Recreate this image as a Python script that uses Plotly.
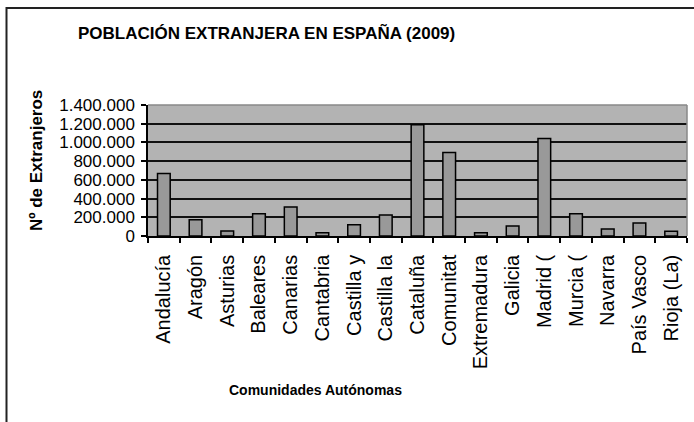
import plotly.graph_objects as go

categories = ["Andalucía", "Aragón", "Asturias", "Baleares", "Canarias", "Cantabria",
              "Castilla y", "Castilla la", "Cataluña", "Comunitat", "Extremadura",
              "Galicia", "Madrid (", "Murcia (", "Navarra", "País Vasco", "Rioja (La)"]
values = [667000, 175000, 54000, 239000, 311000, 36000, 121000, 225000, 1190000,
          893000, 36000, 107000, 1043000, 239000, 75000, 139000, 50000]
y_ticks = [0, 200000, 400000, 600000, 800000, 1000000, 1200000, 1400000]

title_text = "POBLACIÓN EXTRANJERA EN ESPAÑA (2009)"
x_title = "Comunidades Autónomas"
y_title = "Nº de Extranjeros"

W, H = 694, 422
ML, MR, MT, MB = 148, 7, 105, 186
PW = W - ML - MR
PH = H - MT - MB

def px(xp):
    return (xp - ML) / PW

def py(yp):
    return (H - MB - yp) / PH

REG = "Liberation Sans, Arial, sans-serif"

fig = go.Figure(go.Bar(
    x=categories, y=values,
    marker=dict(color="#999999", line=dict(color="#000000", width=1.5)),
))

fig.update_layout(
    width=W, height=H,
    margin=dict(l=ML, r=MR, t=MT, b=MB, autoexpand=False),
    paper_bgcolor="white", plot_bgcolor="#b3b3b3",
    bargap=0.6, showlegend=False,
    separators=",.",
    font=dict(family=REG, color="black"),
)
fig.update_xaxes(
    type="category", tickangle=-90, tickfont=dict(size=20, family=REG),
    ticks="outside", ticklen=5, tickwidth=1.5, tickcolor="black", tickson="boundaries",
    showline=True, linecolor="black", linewidth=1.5, showgrid=False,
    ticklabelstandoff=9, automargin=False,
)
fig.update_yaxes(
    range=[0, 1400000], tickvals=y_ticks, tickformat=",d",
    tickfont=dict(size=17, family=REG),
    ticks="outside", ticklen=5, tickwidth=1.5, tickcolor="black",
    showline=True, linecolor="black", linewidth=1.5,
    showgrid=True, gridcolor="#111111", gridwidth=1.5, zeroline=False,
    ticklabelstandoff=3, automargin=False,
)

frame_path = "M {:.5f},{:.5f} L {:.5f},{:.5f} L {:.5f},{:.5f}".format(
    px(6.5), py(430), px(6.5), py(8), px(694), py(8))
shapes = [
    dict(type="line", xref="paper", yref="paper", x0=0, x1=1, y0=1, y1=1,
         line=dict(color="#888888", width=1.5), layer="above"),
    dict(type="line", xref="paper", yref="paper", x0=1, x1=1, y0=0, y1=1,
         line=dict(color="#888888", width=1.5), layer="above"),
    dict(type="path", xref="paper", yref="paper", path=frame_path,
         line=dict(color="#222222", width=2)),
]
fig.update_layout(shapes=shapes)

fig.add_annotation(text=f"<b>{title_text}</b>", xref="paper", yref="paper",
                   x=px(266), y=py(33), xanchor="center", yanchor="middle",
                   showarrow=False, font=dict(size=17, family=REG))
fig.add_annotation(text=f"<b>{x_title}</b>", xref="paper", yref="paper",
                   x=px(315), y=py(390), xanchor="center", yanchor="middle",
                   showarrow=False, font=dict(size=14, family=REG))
fig.add_annotation(text=f"<b>{y_title}</b>", xref="paper", yref="paper",
                   x=px(36), y=py(160), xanchor="center", yanchor="middle",
                   textangle=-90, showarrow=False, font=dict(size=17, family=REG))

fig.write_html("out.html", config={"displayModeBar": False},
               post_script="document.body.style.margin='0';document.body.style.padding='0';")
